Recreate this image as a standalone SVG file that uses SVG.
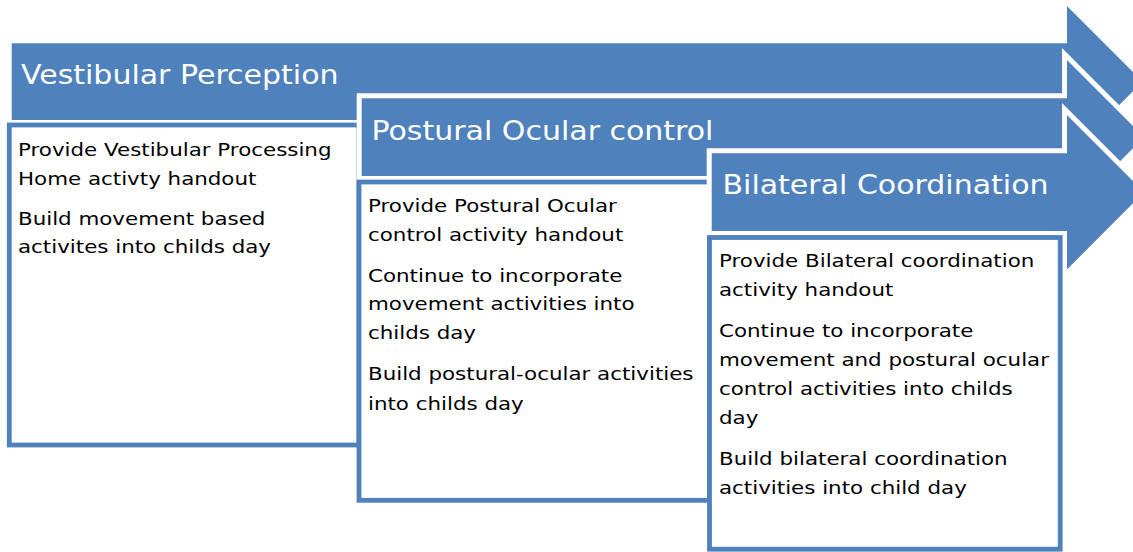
<svg xmlns="http://www.w3.org/2000/svg" width="1133" height="552" viewBox="0 0 1133 552">
<style>
.arrow{fill:#4F81BD;stroke:#FFFFFF;stroke-width:5;stroke-linejoin:miter}
.box{fill:#FFFFFF;stroke:#4F81BD;stroke-width:4.8}
.title{font-family:"DejaVu Sans",sans-serif;font-size:30px;fill:#FFFFFF}
.body{font-family:"DejaVu Sans",sans-serif;font-size:21.4px;fill:#000000}
</style>
<rect width="1133" height="552" fill="#FFFFFF"/>
<g id="connectors"></g>
<g id="node1">
<path class="arrow" d="M9.2,40.8 H1064.5 V0 L1146.1,81.6 L1064.5,163.2 V122.5 H9.2 Z"/>
<text class="title" transform="translate(21 83.5) scale(1 0.91)">Vestibular Perception</text>
<rect class="box" x="9.3" y="125" width="349.7" height="320"/>
<text class="body" transform="translate(18 156) scale(1 0.86)">Provide Vestibular Processing</text>
<text class="body" transform="translate(18 184.5) scale(1 0.86)">Home activty handout</text>
<text class="body" transform="translate(18 224.5) scale(1 0.86)">Build movement based</text>
<text class="body" transform="translate(18 253) scale(1 0.86)">activites into childs day</text>
</g>
<g id="node2">
<path class="arrow" d="M359.2,95.8 H1064.5 V54 L1147.7,137.2 L1064.5,220.4 V178.5 H359.2 Z"/>
<text class="title" transform="translate(371.5 140) scale(1 0.91)">Postural Ocular control</text>
<rect class="box" x="359" y="182" width="350.5" height="318.3"/>
<text class="body" transform="translate(368 211.5) scale(1 0.86)">Provide Postural Ocular</text>
<text class="body" transform="translate(368 241) scale(1 0.86)">control activity handout</text>
<text class="body" transform="translate(368 281.5) scale(1 0.86)">Continue to incorporate</text>
<text class="body" transform="translate(368 309.5) scale(1 0.86)">movement activities into</text>
<text class="body" transform="translate(368 338.5) scale(1 0.86)">childs day</text>
<text class="body" transform="translate(368 380) scale(1 0.86)">Build postural-ocular activities</text>
<text class="body" transform="translate(368 409.5) scale(1 0.86)">into childs day</text>
</g>
<g id="node3">
<path class="arrow" d="M709.2,150.8 H1064.5 V109 L1147.7,192.2 L1064.5,275.4 V233.5 H709.2 Z"/>
<text class="title" transform="translate(722.5 194) scale(1 0.91)">Bilateral Coordination</text>
<rect class="box" x="709.5" y="237.5" width="350.7" height="311.7"/>
<text class="body" transform="translate(719 267) scale(1 0.86)">Provide Bilateral coordination</text>
<text class="body" transform="translate(719 296) scale(1 0.86)">activity handout</text>
<text class="body" transform="translate(719 336.5) scale(1 0.86)">Continue to incorporate</text>
<text class="body" transform="translate(719 365.5) scale(1 0.86)">movement and postural ocular</text>
<text class="body" transform="translate(719 394.5) scale(1 0.86)">control activities into childs</text>
<text class="body" transform="translate(719 423.5) scale(1 0.86)">day</text>
<text class="body" transform="translate(719 464.5) scale(1 0.86)">Build bilateral coordination</text>
<text class="body" transform="translate(719 493.5) scale(1 0.86)">activities into child day</text>
</g>
</svg>
